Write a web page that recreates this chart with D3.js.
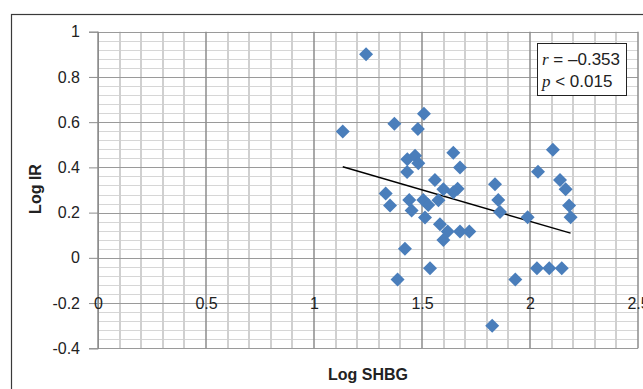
<!DOCTYPE html>
<html>
<head>
<meta charset="utf-8">
<script src="https://cdn.jsdelivr.net/npm/d3@7"></script>
<style>
  html, body { margin: 0; padding: 0; background: #fff; }
  svg { display: block; }
  text { font-family: "Liberation Sans", Arial, sans-serif; fill: #222; }
</style>
</head>
<body>
<svg id="chart" width="643" height="389"></svg>
<script>
// ---- data ----
const logSHBG = [1.133, 1.241, 1.372, 1.509, 1.481, 1.645, 2.106, 1.432, 1.468, 1.483,
                 1.431, 1.676, 1.560, 2.037, 2.139, 2.165, 1.838, 1.599, 1.332, 1.665,
                 1.645, 1.853, 1.352, 1.441, 1.452, 1.506, 1.529, 1.514, 1.576, 1.583,
                 1.619, 1.599, 1.676, 1.719, 1.861, 1.989, 2.181, 2.188, 1.421, 1.387,
                 1.537, 1.932, 2.032, 2.089, 2.147, 1.825];
const logIR   = [0.559, 0.900, 0.593, 0.637, 0.570, 0.465, 0.478, 0.436, 0.452, 0.418,
                 0.380, 0.400, 0.344, 0.381, 0.344, 0.303, 0.325, 0.303, 0.284, 0.305,
                 0.290, 0.256, 0.231, 0.256, 0.209, 0.256, 0.234, 0.178, 0.255, 0.149,
                 0.116, 0.079, 0.116, 0.116, 0.203, 0.180, 0.231, 0.180, 0.040, -0.096,
                 -0.046, -0.096, -0.046, -0.046, -0.046, -0.300];
const trendX = [1.133, 2.188];
const trendY = [0.403, 0.109];
const xTicks = [0, 0.5, 1, 1.5, 2, 2.5];
const xTickLabels = ["0", "0.5", "1", "1.5", "2", "2.5"];
const yTicks = [-0.4, -0.2, 0, 0.2, 0.4, 0.6, 0.8, 1];
const yTickLabels = ["-0.4", "-0.2", "0", "0.2", "0.4", "0.6", "0.8", "1"];
const xTitle = "Log SHBG";
const yTitle = "Log IR";

// ---- layout ----
const svg = d3.select("#chart");
const pL = 98, pR = 638, pT = 31.7, pB = 348.3;
const x = d3.scaleLinear().domain([0, 2.5]).range([pL, pR]);
const y = d3.scaleLinear().domain([-0.4, 1]).range([pB, pT]);

// chart border
svg.append("rect").attr("x", 11.5).attr("y", 14.5).attr("width", 700).attr("height", 500)
  .attr("fill", "none").attr("stroke", "#3a3a3a").attr("stroke-width", 1.2);

const g = svg.append("g");

// minor gridlines
const xMinor = d3.range(0, 2.5001, 0.1).filter(v => Math.abs(v * 2 - Math.round(v * 2)) > 1e-6);
const yMinor = d3.range(-0.4, 1.0001, 0.04).filter(v => Math.abs(v * 5 - Math.round(v * 5)) > 1e-6);
g.selectAll(".ymin").data(yMinor).enter().append("line")
  .attr("x1", pL).attr("x2", pR)
  .attr("y1", d => Math.round(y(d)) + 0.5).attr("y2", d => Math.round(y(d)) + 0.5)
  .attr("stroke", "#d6d6d6").attr("stroke-width", 1);
g.selectAll(".xmin").data(xMinor).enter().append("line")
  .attr("y1", pT).attr("y2", pB)
  .attr("x1", d => Math.round(x(d))).attr("x2", d => Math.round(x(d)))
  .attr("stroke", "#d0d0d0").attr("stroke-width", 2);

// major gridlines
g.selectAll(".ymaj").data(yTicks).enter().append("line")
  .attr("x1", pL).attr("x2", pR)
  .attr("y1", d => Math.round(y(d)) + 0.5).attr("y2", d => Math.round(y(d)) + 0.5)
  .attr("stroke", "#9a9a9a").attr("stroke-width", 1);
g.selectAll(".xmaj").data(xTicks).enter().append("line")
  .attr("y1", pT).attr("y2", pB)
  .attr("x1", d => Math.round(x(d))).attr("x2", d => Math.round(x(d)))
  .attr("stroke", "#8c8c8c").attr("stroke-width", 1.5);

// y axis
const yAxis = d3.axisLeft(y).tickValues(yTicks).tickSize(9).tickPadding(9)
  .tickFormat((d, i) => yTickLabels[i]);
const ya = svg.append("g").attr("transform", `translate(${pL},0)`).call(yAxis);
ya.select(".domain").attr("stroke", "#8c8c8c");
ya.selectAll(".tick line").attr("stroke", "#8c8c8c");
ya.selectAll(".tick text").attr("font-size", 16).attr("fill", "#333")
  .style("font-family", "'Liberation Sans', Arial, sans-serif");

// x axis labels (axis crosses at y = -0.2)
const xAxis = d3.axisBottom(x).tickValues(xTicks).tickSize(0).tickPadding(0)
  .tickFormat((d, i) => xTickLabels[i]);
const xa = svg.append("g").attr("transform", `translate(0,${y(-0.2)})`).call(xAxis);
xa.select(".domain").remove();
xa.selectAll(".tick text").attr("font-size", 16).attr("fill", "#333")
  .attr("dy", "0.35em").attr("y", 0)
  .style("font-family", "'Liberation Sans', Arial, sans-serif");

// trend line
svg.append("line")
  .attr("x1", x(trendX[0])).attr("y1", y(trendY[0]))
  .attr("x2", x(trendX[1])).attr("y2", y(trendY[1]))
  .attr("stroke", "#000").attr("stroke-width", 1.4);

// points
const pts = logSHBG.map((v, i) => [v, logIR[i]]);
svg.selectAll(".pt").data(pts).enter().append("path")
  .attr("d", d3.symbol().type(d3.symbolSquare).size(98))
  .attr("transform", d => `translate(${x(d[0])},${y(d[1])}) rotate(45)`)
  .attr("fill", "#4a7ebb");

// stats box
svg.append("rect").attr("x", 537.5).attr("y", 43.5).attr("width", 89).attr("height", 52)
  .attr("fill", "#fff").attr("stroke", "#222").attr("stroke-width", 1);
const t1 = svg.append("text").attr("x", 542).attr("y", 65).attr("font-size", 17);
t1.append("tspan").text("r").style("font-family", "'Liberation Serif', 'Times New Roman', serif").attr("font-style", "italic");
t1.append("tspan").text(" = \u20130.353");
const t2 = svg.append("text").attr("x", 542).attr("y", 87).attr("font-size", 17);
t2.append("tspan").text("p").style("font-family", "'Liberation Serif', 'Times New Roman', serif").attr("font-style", "italic");
t2.append("tspan").text(" < 0.015");

// axis titles
svg.append("text").attr("x", 368).attr("y", 380).attr("text-anchor", "middle")
  .attr("font-size", 16).attr("font-weight", "bold").text(xTitle);
svg.append("text").attr("transform", "translate(41,189) rotate(-90)").attr("text-anchor", "middle")
  .attr("font-size", 16).attr("font-weight", "bold").text(yTitle);
</script>
</body>
</html>
